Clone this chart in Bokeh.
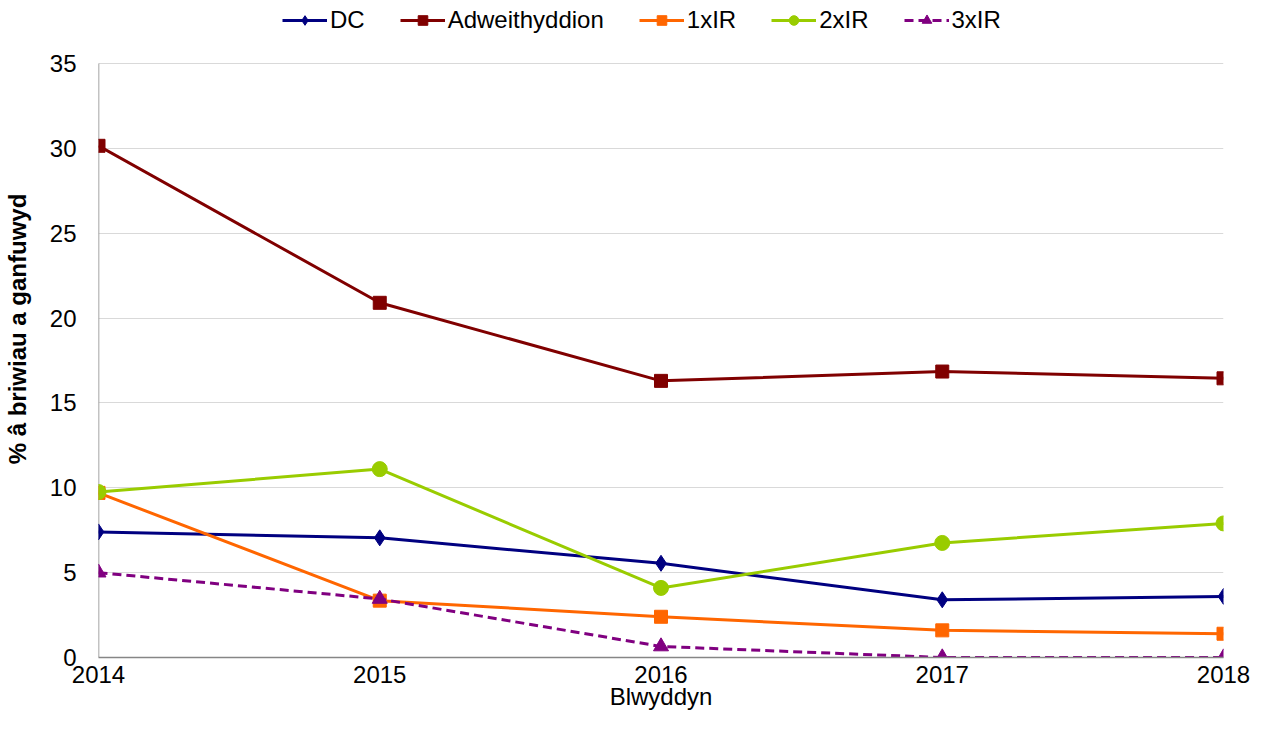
from bokeh.plotting import figure
from bokeh.models import Range1d, FixedTicker, Legend, LegendItem
from bokeh.embed import file_html
from bokeh.resources import INLINE

years = [2014, 2015, 2016, 2017, 2018]
dc = [7.4, 7.05, 5.55, 3.4, 3.6]
adweith = [30.15, 20.9, 16.3, 16.85, 16.45]
ir1 = [9.7, 3.35, 2.4, 1.6, 1.4]
ir2 = [9.75, 11.1, 4.1, 6.75, 7.9]
ir3 = [5.0, 3.45, 0.65, 0.0, 0.0]
y_ticks = [0, 5, 10, 15, 20, 25, 30, 35]

FONT = "Liberation Sans"
FS = "24px"

W, H = 1255, 720
LEFT, RIGHT, BOTTOM = 90, 32, 63
FRAME_H = H - BOTTOM
PLOT_H = 594  # pixel height of the 0..35 area
y_top = y_ticks[-1] * FRAME_H / PLOT_H  # headroom above 35 for the legend

p = figure(width=W, height=H, output_backend="svg", toolbar_location=None,
           x_range=Range1d(years[0], years[-1]), y_range=Range1d(0, y_top),
           min_border_left=LEFT, min_border_right=RIGHT, min_border_bottom=BOTTOM, min_border_top=0)
p.outline_line_color = None
p.xgrid.visible = False
p.ygrid.grid_line_color = "#d9d9d9"
p.ygrid.grid_line_width = 1

p.xaxis.ticker = FixedTicker(ticks=years)
p.yaxis.ticker = FixedTicker(ticks=y_ticks)
for ax in (p.xaxis[0], p.yaxis[0]):
    ax.axis_line_color = "#868686"
    ax.axis_line_width = 1.5
    ax.major_tick_line_color = None
    ax.minor_tick_line_color = None
    ax.major_tick_out = 0
    ax.major_tick_in = 0
    ax.minor_tick_out = 0
    ax.minor_tick_in = 0
    ax.major_label_text_font = FONT
    ax.major_label_text_font_size = FS
    ax.major_label_text_color = "#000000"
    ax.axis_label_text_font = FONT
    ax.axis_label_text_color = "#000000"
    ax.axis_label_text_font_size = FS
p.yaxis.axis_line_color = None
p.yaxis.major_label_standoff = 22
p.xaxis.major_label_standoff = 8
p.xaxis.axis_label = "Blwyddyn"
p.xaxis.axis_label_text_font_style = "normal"
p.xaxis.axis_label_standoff = -3
p.yaxis.axis_label = "% â briwiau a ganfuwyd"
p.yaxis.axis_label_text_font_style = "bold"
p.yaxis.axis_label_standoff = 16

# y axis line only up to the top tick
p.segment(x0=[years[0]], y0=[y_ticks[0]], x1=[years[0]], y1=[y_ticks[-1]],
          line_color="#868686", line_width=1.5)

items = []
r1 = p.line(years, dc, line_color="#000080", line_width=3)
m1 = p.scatter(years, dc, marker="diamond", size=16, fill_color="#000080", line_color="#000080")
items.append(LegendItem(label="DC", renderers=[r1, m1]))
r2 = p.line(years, adweith, line_color="#800000", line_width=3)
m2 = p.scatter(years, adweith, marker="square", size=13, fill_color="#800000", line_color="#800000")
items.append(LegendItem(label="Adweithyddion", renderers=[r2, m2]))
r3 = p.line(years, ir1, line_color="#FF6600", line_width=3)
m3 = p.scatter(years, ir1, marker="square", size=13, fill_color="#FF6600", line_color="#FF6600")
items.append(LegendItem(label="1xIR", renderers=[r3, m3]))
r4 = p.line(years, ir2, line_color="#99CC00", line_width=3)
m4 = p.scatter(years, ir2, marker="circle", size=15, fill_color="#99CC00", line_color="#99CC00")
items.append(LegendItem(label="2xIR", renderers=[r4, m4]))
r5 = p.line(years, ir3, line_color="#800080", line_width=3, line_dash="9 5")
m5 = p.scatter(years, ir3, marker="triangle", size=15, fill_color="#800080", line_color="#800080")
items.append(LegendItem(label="3xIR", renderers=[r5, m5]))

legend = Legend(items=items, orientation="horizontal", location=(184, FRAME_H - 34),
                label_text_font=FONT, label_text_font_size=FS, label_text_color="#000000",
                glyph_width=45, glyph_height=24, spacing=35, label_standoff=3,
                border_line_color=None, background_fill_alpha=0, margin=0, padding=0)
p.add_layout(legend)

open("out.html", "w").write(file_html(p, INLINE))
